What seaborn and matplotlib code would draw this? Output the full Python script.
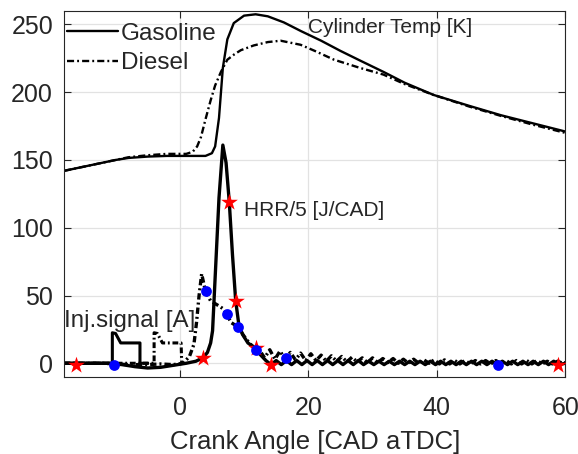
import matplotlib
matplotlib.use("Agg")
import matplotlib.pyplot as plt
import seaborn as sns

# cylinder temperature (scaled), gasoline and diesel
ca_temp_gas = [-18, -14, -10, -8, -5, -2, 0, 2, 4, 5, 5.5, 6.1, 6.7, 7.4, 8.4, 10, 11.8, 13.7,
               16.2, 18.9, 22, 25, 28, 31.7, 35, 39.5, 45, 50, 55, 60]
temp_gas = [142, 146, 150, 151.5, 152.5, 153, 153, 153, 153, 155, 160, 181, 218, 239, 251, 256.5, 257.5, 256,
            251.5, 245, 238, 230.5, 223.5, 215, 207, 198, 190, 183, 177, 171]
ca_temp_die = [-18, -14, -10, -8, -5, -2, 0, 1, 2, 2.7, 3.3, 4, 4.8, 5.5, 6.4, 7.4, 8.5, 9.5, 11.5, 13.7,
               15.7, 18.8, 21, 24, 28, 31.7, 35, 39.5, 45, 50, 55, 60]
temp_die = [142, 146, 150, 152, 153.5, 154.5, 154.5, 154.5, 156, 160, 167, 180, 194, 205, 215, 224, 228, 231, 234.5, 237,
            238, 235, 230.5, 224, 218, 213, 206, 198, 189.5, 182.5, 176, 170]

# heat release rate / 5
ca_hrr_gas = [-18, -11, -9, -7, -5, -3, -1, 1, 2.5, 3.6, 4.3, 4.8, 5.1, 5.6, 6.1, 6.7, 7.2, 7.7, 8.2, 8.7, 9.2,
              9.8, 10.6, 11.8, 12.6, 13.4, 14.2, 15.0, 15.8, 16.6, 17.4, 18.2, 19.0, 19.8, 20.6, 21.4, 22.2,
              23.0, 23.8, 24.6, 25.4, 26.2, 27.0, 27.8, 28.6, 29.4, 30.2, 31.0, 31.8, 32.6, 33.4, 34.2, 35.0,
              35.8, 36.6, 37.4, 38.2, 39.0, 39.8, 40.6, 41.4, 42.2, 43.0, 43.8, 44.6, 45.4, 46.2, 47.0, 47.8,
              48.6, 49.4, 50.2, 51.0, 51.8, 52.6, 53.4, 54.2, 55.0, 55.8, 56.6, 57.4, 58.2, 59.0, 60]
hrr_gas = [0, 0, -1, -2.5, -3.5, -3, -1.5, 0, 1.5, 4, 8, 15, 24, 73, 122, 161, 148, 119, 80, 46, 28,
           21, 15, 11, 6, 2, -1, 2, -1, 2, -1, 2, -1, 2, -1, 2, -1,
           2, -1, 2, -1, 2, -1, 2, -1, 1.5, -1, 1.5, -1, 1.5, -1, 1.5, -1,
           1.5, -1, 1.5, -1, 1.5, -1, 1.5, -1, 1.5, -1, 1.5, -1, 1.5, -1, 1.5, -1,
           1.5, -1, 1.5, -1, 1.5, -1, 1.5, -1, 1.5, -1, 1.5, -1, 1.5, -1, 0]
ca_hrr_die = [-18, -12, -8, -5, -3, -1, 0.5, 1.5, 2.2, 2.6, 3.0, 3.4, 4.0, 4.8, 5.5, 6.2, 6.8, 7.3, 8.0, 9.0,
              10.0, 10.8, 11.8, 12.5, 13.2, 14.0, 14.8, 15.6, 16.4, 17.2, 18.0, 18.8, 19.6, 20.4, 21.2, 22.0,
              22.8, 23.6, 24.4, 25.2, 26.0, 26.8, 27.6, 28.4, 29.2, 30.0, 30.8, 31.6, 32.4, 33.2, 34.0, 34.8,
              35.6, 36.4, 37.2, 38.0, 38.8, 39.6, 40.4, 41.2, 42.0, 42.8, 43.6, 44.4, 45.2, 46.0, 46.8, 47.6,
              48.4, 49.2, 50.0, 50.8, 51.6, 52.4, 53.2, 54.0, 54.8, 55.6, 56.4, 57.2, 58.0, 58.8, 59.6, 60]
hrr_die = [0, 0, -1, -1, -0.5, -1, 0, 5, 14, 30, 50, 66, 53, 46, 44, 42, 40, 36, 30, 27,
           20, 15, 10.5, 9, 4, 10, 3, 9, 3, 8, 2.5, 7.5, 2, 7, 2, 6,
           1.5, 5.5, 1.5, 5, 1, 4.5, 1, 4, 0.5, 4, 0.5, 3.5, 0.5, 3.5, 0, 3,
           0, 3, 0, 2.5, 0, 2.5, -0.5, 2.5, -0.5, 2, -0.5, 2, -0.5, 2, -0.5, 2,
           -0.5, 2, -0.5, 2, -0.5, 2, -0.5, 2, -0.5, 2, -0.5, 1.5, -0.5, 1.5, 0, 0.5]

# injector current
ca_inj_gas = [-18, -10.5, -10.5, -10.0, -9.2, -6.2, -6.2, -5]
inj_gas = [0, 0, 22.5, 22, 15, 15, 0, 0]
ca_inj_die = [-18, -4.0, -4.0, -3.5, -2.7, 0.2, 0.3, 1]
inj_die = [0, 0, 22.5, 22, 15, 15, 0, 0]

# marker points on the HRR curves
ca_star = [-16.2, 3.6, 7.7, 8.7, 11.8, 14.2, 58.8]
hrr_star = [-1, 4, 119, 46, 11, -1, -1]
ca_dot = [-10.2, 4.0, 7.3, 9.0, 11.8, 16.6, 49.5]
hrr_dot = [-1, 53, 36, 27, 10, 4, -1]

sns.set_style("ticks")
plt.rcParams["font.family"] = ["Liberation Sans", "DejaVu Sans"]

fig, ax = plt.subplots(figsize=(5.78, 4.54), dpi=100)
fig.subplots_adjust(left=0.111, right=0.978, top=0.976, bottom=0.170)

kw = dict(estimator=None, sort=False, color="black", ax=ax)

sns.lineplot(x=ca_temp_gas, y=temp_gas, lw=1.7, label="Gasoline", **kw)
sns.lineplot(x=ca_temp_die, y=temp_die, lw=1.7, linestyle=(0, (3, 1.3, 0.8, 1.3)), label="Diesel", **kw)
sns.lineplot(x=ca_hrr_gas, y=hrr_gas, lw=2.4, **kw)
sns.lineplot(x=ca_hrr_die, y=hrr_die, lw=2.4, linestyle=(0, (1.9, 0.9, 0.6, 0.9)), **kw)
sns.lineplot(x=ca_inj_gas, y=inj_gas, lw=2.2, **kw)
sns.lineplot(x=ca_inj_die, y=inj_die, lw=2.2, linestyle=(0, (1.9, 0.9, 0.6, 0.9)), **kw)

sns.scatterplot(x=ca_star, y=hrr_star, marker="*", color="red", s=160, linewidth=0, zorder=5, ax=ax)
sns.scatterplot(x=ca_dot, y=hrr_dot, marker="o", color="blue", s=60, linewidth=0, zorder=5, ax=ax)

ax.text(20, 248, "Cylinder Temp [K]", fontsize=15, va="center", ha="left")
ax.text(10, 113, "HRR/5 [J/CAD]", fontsize=15, va="center", ha="left")
ax.text(-18, 31, "Inj.signal [A]", fontsize=17.4, va="center", ha="left")

ax.set_xlim(-18, 60)
ax.set_ylim(-10, 260)
ax.set_xticks([0, 20, 40, 60])
ax.set_yticks([0, 50, 100, 150, 200, 250])
ax.grid(True, color="#e2e2e2", lw=0.9)
ax.set_axisbelow(True)
ax.tick_params(direction="in", top=True, right=True, length=5, width=0.8,
               colors="#262626", labelsize=18, pad=8)
ax.tick_params(axis="x", pad=13.8)
for sp in ax.spines.values():
    sp.set_visible(True)
    sp.set_color("#262626")
    sp.set_linewidth(0.8)
ax.set_xlabel("Crank Angle [CAD aTDC]", fontsize=18.5, color="#262626", labelpad=7.5)
ax.set_ylabel("")

ax.legend(loc="upper left", bbox_to_anchor=(0.006, 0.968), frameon=False, fontsize=17.5,
          handlelength=2.1, handletextpad=0.12, borderaxespad=0, borderpad=0, labelspacing=0.32)

fig.savefig("out.png", dpi=100)
